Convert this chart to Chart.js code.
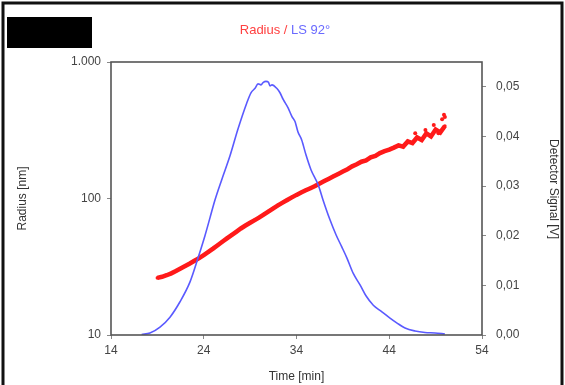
<!DOCTYPE html>
<html>
<head>
<meta charset="utf-8">
<script src="https://cdn.jsdelivr.net/npm/chart.js@4"></script>
<style>
  body { margin: 0; background: #fff; }
  canvas { display: block; }
</style>
</head>
<body>
<canvas id="chart" width="565" height="385"></canvas>
<script>
// Radius (red, left log axis) vs time
const radiusTimes = [19.0, 19.5, 20.0, 20.5, 21.0, 21.5, 22.0, 22.5, 23.0, 23.5, 24.0, 24.5, 25.0, 25.5, 26.0, 26.5, 27.0, 27.5, 28.0, 28.5, 29.0, 29.5, 30.0, 30.5, 31.0, 31.5, 32.0, 32.5, 33.0, 33.5, 34.0, 34.5, 35.0, 35.5, 36.0, 36.5, 37.0, 37.5, 38.0, 38.5, 39.0, 39.5, 40.0, 40.5, 41.0, 41.5, 42.0, 42.5, 43.0, 43.5, 44.0, 44.5, 45.0, 45.5, 46.0, 46.5, 47.0, 47.5, 48.0, 48.5, 49.0, 49.5, 50.0]
const radiusValues = [26.2, 26.7, 27.4, 28.3, 29.4, 30.7, 32.0, 33.4, 35.0, 36.6, 38.5, 40.6, 42.9, 45.5, 48.2, 51.0, 53.9, 57.0, 60.3, 63.4, 66.4, 69.5, 72.7, 76.5, 80.6, 84.8, 89.1, 93.3, 97.6, 101.9, 106.3, 110.6, 114.8, 119.0, 123.6, 128.8, 134.2, 139.7, 145.5, 151.4, 157.6, 163.9, 172, 178, 186, 190, 200, 205, 215, 222, 228, 236, 245, 240, 262, 255, 280, 268, 300, 285, 320, 305, 340]
// stray radius points at the noisy end
const radiusOutlierTimes = [46.8, 47.9, 48.8, 49.3, 49.7, 49.9, 50.0]
const radiusOutlierValues = [300, 318, 345, 300, 380, 410, 395]

// LS 92° detector signal (blue, right axis)
const signalTimes = [17.3, 18.2, 19.28, 20.36, 21.44, 22.52, 23.38, 24.13, 24.67, 25.21, 25.94, 26.83, 27.69, 28.63, 29.09, 29.53, 29.85, 30.17, 30.42, 30.71, 30.98, 31.14, 31.36, 31.87, 32.22, 32.58, 33.08, 33.51, 33.84, 34.16, 34.56, 35.02, 35.56, 36.35, 36.86, 37.61, 38.26, 38.87, 39.44, 40.12, 40.85, 41.49, 42.28, 43.11, 44.08, 44.84, 45.7, 46.78, 47.85, 48.93, 50.0]
const signalValues = [0.0001, 0.0004, 0.0016, 0.0036, 0.0067, 0.0107, 0.0155, 0.0200, 0.0236, 0.0272, 0.0313, 0.0361, 0.0415, 0.0467, 0.0488, 0.0497, 0.0506, 0.0504, 0.0509, 0.0511, 0.0509, 0.0502, 0.0504, 0.0497, 0.0488, 0.0474, 0.0458, 0.0440, 0.0430, 0.0409, 0.0393, 0.0363, 0.0333, 0.0302, 0.0272, 0.0232, 0.0202, 0.0178, 0.0155, 0.0124, 0.0101, 0.0079, 0.0060, 0.0048, 0.0034, 0.0024, 0.0014, 0.0008, 0.0005, 0.0004, 0.0002]

const radiusTicks = [10, 100, 1000]
const signalTicks = [0, 0.01, 0.02, 0.03, 0.04, 0.05]

const red = '#ff1a1a'
const blue = '#5a5aff'
const fontFamily = "'Liberation Sans', Arial, sans-serif"

const toPoints = (xs, ys) => xs.map((x, i) => ({ x: x, y: ys[i] }))

// page frame, blacked-out box, two-colour title, right axis title and plot frame
const decorations = {
  id: 'decorations',
  beforeDraw (chart) {
    const ctx = chart.ctx
    ctx.save()
    ctx.fillStyle = '#fff'
    ctx.fillRect(0, 0, chart.width, chart.height)
    ctx.fillStyle = '#000'
    ctx.fillRect(7, 17, 85, 31)
    ctx.strokeStyle = '#111'
    ctx.lineWidth = 3
    ctx.beginPath()
    ctx.moveTo(3, chart.height)
    ctx.lineTo(3, 3)
    ctx.lineTo(chart.width - 3, 3)
    ctx.lineTo(chart.width - 3, chart.height)
    ctx.stroke()
    ctx.restore()
  },
  afterDraw (chart) {
    const ctx = chart.ctx
    const a = chart.chartArea
    ctx.save()
    ctx.strokeStyle = '#555'
    ctx.lineWidth = 1.6
    ctx.strokeRect(a.left, a.top, a.right - a.left, a.bottom - a.top)

    ctx.font = '13px ' + fontFamily
    ctx.textBaseline = 'middle'
    const left = 'Radius / '
    const right = 'LS 92°'
    const w1 = ctx.measureText(left).width
    const w2 = ctx.measureText(right).width
    const x0 = 285 - (w1 + w2) / 2
    ctx.fillStyle = '#ff4040'
    ctx.fillText(left, x0, 30)
    ctx.fillStyle = '#6a6aff'
    ctx.fillText(right, x0 + w1, 30)

    ctx.translate(553, 189)
    ctx.rotate(Math.PI / 2)
    ctx.font = '12px ' + fontFamily
    ctx.textAlign = 'center'
    ctx.fillStyle = '#333'
    ctx.fillText('Detector Signal [V]', 0, 0)
    ctx.restore()
  }
}

new Chart(document.getElementById('chart').getContext('2d'), {
  type: 'scatter',
  data: {
    datasets: [
      {
        label: 'LS 92°',
        data: toPoints(signalTimes, signalValues),
        yAxisID: 'y2',
        showLine: true,
        borderColor: blue,
        borderWidth: 1.6,
        pointRadius: 0,
        cubicInterpolationMode: 'monotone'
      },
      {
        label: 'Radius',
        data: toPoints(radiusTimes, radiusValues),
        yAxisID: 'y',
        showLine: true,
        borderColor: red,
        borderWidth: 4.5,
        pointRadius: 1.8,
        pointBackgroundColor: red,
        pointBorderWidth: 0
      },
      {
        label: 'Radius outliers',
        data: toPoints(radiusOutlierTimes, radiusOutlierValues),
        yAxisID: 'y',
        showLine: false,
        pointRadius: 2,
        pointBackgroundColor: red,
        pointBorderWidth: 0
      }
    ]
  },
  options: {
    responsive: false,
    animation: false,
    devicePixelRatio: 1,
    layout: { padding: { top: 62, left: 0, right: 0, bottom: 0 } },
    plugins: {
      legend: { display: false },
      tooltip: { enabled: false }
    },
    scales: {
      x: {
        type: 'linear',
        min: 14,
        max: 54,
        afterFit: (scale) => { scale.height = 50 },
        border: { display: false },
        grid: { drawOnChartArea: false, drawTicks: true, tickLength: 4, color: '#888' },
        ticks: {
          stepSize: 10,
          padding: 4,
          color: '#444',
          font: { family: fontFamily, size: 12 }
        },
        title: {
          display: true,
          text: 'Time [min]',
          color: '#333',
          padding: { top: 0, bottom: 1 },
          font: { family: fontFamily, size: 12 }
        }
      },
      y: {
        type: 'logarithmic',
        position: 'left',
        min: 10,
        max: 1000,
        afterFit: (scale) => { scale.width = 111 },
        afterBuildTicks: (scale) => { scale.ticks = radiusTicks.map(v => ({ value: v })) },
        border: { display: false },
        grid: { drawOnChartArea: false, drawTicks: true, tickLength: 4, color: '#888' },
        ticks: {
          padding: 6,
          color: '#444',
          font: { family: fontFamily, size: 12 },
          callback: (v) => v === 1000 ? '1.000' : String(v)
        },
        title: {
          display: true,
          text: 'Radius [nm]',
          color: '#333',
          padding: { top: 15, bottom: 0 },
          font: { family: fontFamily, size: 12 }
        }
      },
      y2: {
        type: 'linear',
        position: 'right',
        min: 0,
        max: 0.055,
        afterFit: (scale) => { scale.width = 83 },
        afterBuildTicks: (scale) => { scale.ticks = signalTicks.map(v => ({ value: v })) },
        border: { display: false },
        grid: { drawOnChartArea: false, drawTicks: true, tickLength: 4, color: '#888' },
        ticks: {
          padding: 10,
          color: '#444',
          font: { family: fontFamily, size: 12 },
          callback: (v) => v.toFixed(2).replace('.', ',')
        }
      }
    }
  },
  plugins: [decorations]
})
</script>
</body>
</html>
